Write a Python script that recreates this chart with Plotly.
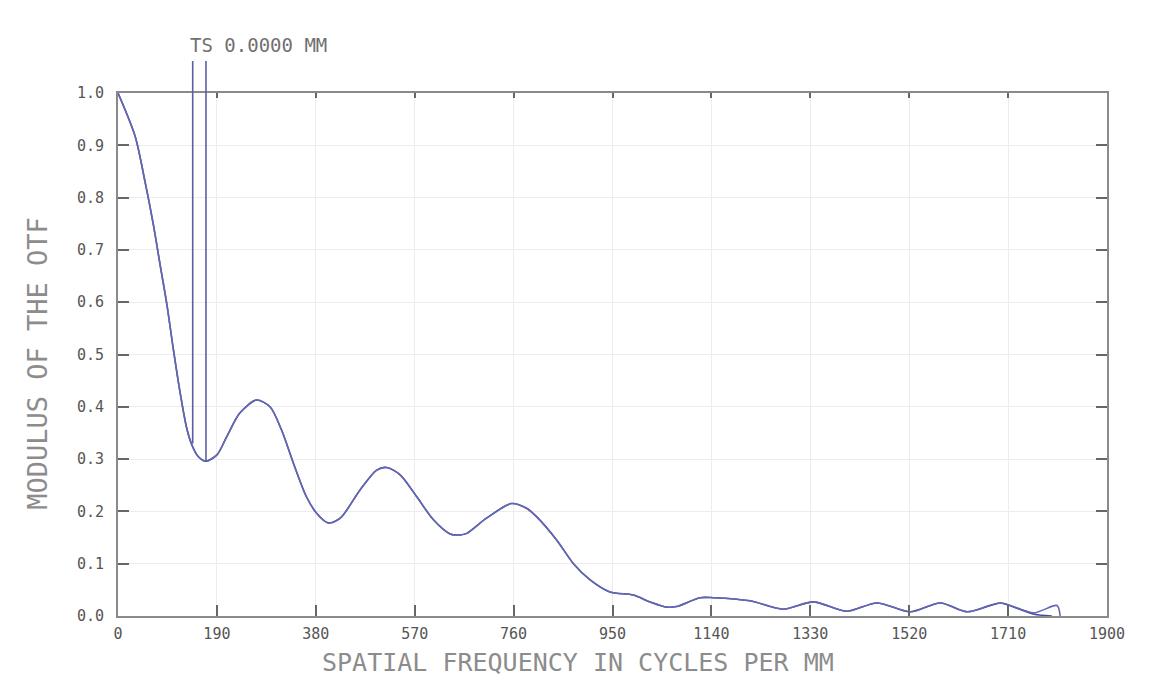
import plotly.graph_objects as go

# Tangential curve
freq_t = [0, 33, 52, 68, 81, 94, 106, 119, 132, 142, 154, 169, 190, 209, 234, 266, 292, 314,
          337, 362, 382, 404, 427, 465, 497, 516, 542, 574, 606, 638, 657, 670, 708, 756, 785,
          804, 843, 875, 907, 945, 990, 1022, 1054, 1073, 1118, 1144, 1214, 1278, 1336, 1400,
          1458, 1522, 1580, 1631, 1695, 1759, 1804, 1810]
mtf_t = [1.0, 0.917, 0.830, 0.748, 0.671, 0.595, 0.512, 0.429, 0.359, 0.327, 0.305, 0.296,
         0.308, 0.343, 0.388, 0.413, 0.400, 0.356, 0.292, 0.228, 0.196, 0.178, 0.187, 0.241,
         0.279, 0.284, 0.270, 0.228, 0.184, 0.157, 0.155, 0.158, 0.187, 0.215, 0.206, 0.190,
         0.145, 0.100, 0.069, 0.046, 0.040, 0.027, 0.017, 0.018, 0.035, 0.035, 0.029, 0.013,
         0.027, 0.009, 0.025, 0.008, 0.025, 0.008, 0.025, 0.006, 0.020, 0.0]

# Sagittal curve (overlaps tangential except at the end)
freq_s = freq_t[:55] + [1707, 1758, 1794]
mtf_s = mtf_t[:55] + [0.022, 0.004, 0.0]

# Legend marker lines (frequency, curve value)
legend_freq = [143.5, 169]
legend_val = [0.330, 0.296]
legend_text = "TS 0.0000 MM"

x_ticks = [0, 190, 380, 570, 760, 950, 1140, 1330, 1520, 1710, 1900]
y_ticks = [0.0, 0.1, 0.2, 0.3, 0.4, 0.5, 0.6, 0.7, 0.8, 0.9, 1.0]

FONT = "DejaVu Sans Mono"

fig = go.Figure()
fig.add_trace(go.Scatter(x=freq_s, y=mtf_s, mode="lines",
                         line=dict(color="#3d4a9e", width=1.6, shape="spline", smoothing=0.8),
                         hoverinfo="skip", showlegend=False))
fig.add_trace(go.Scatter(x=freq_t, y=mtf_t, mode="lines",
                         line=dict(color="#6467b0", width=1.6, shape="spline", smoothing=0.8),
                         hoverinfo="skip", showlegend=False))
# invisible trace to carry the top tick axis
fig.add_trace(go.Scatter(x=[x_ticks[0], x_ticks[-1]], y=[y_ticks[0], y_ticks[0]],
                         mode="lines", line=dict(width=0), opacity=0,
                         xaxis="x2", yaxis="y", hoverinfo="skip", showlegend=False))

for f, v in zip(legend_freq, legend_val):
    fig.add_shape(type="line", xref="x", yref="paper", x0=f, x1=f, y0=v, y1=1.061,
                  line=dict(color="#5a5ea8", width=1.6))

fig.add_annotation(x=134.5, y=1.092, xref="x", yref="paper", text=legend_text,
                   showarrow=False, xanchor="left", yanchor="middle",
                   font=dict(family=FONT, size=19, color="#707070"))

# Axis titles
fig.add_annotation(x=0.465, y=-0.088, xref="paper", yref="paper",
                   text="SPATIAL FREQUENCY IN CYCLES PER MM", showarrow=False,
                   xanchor="center", yanchor="middle",
                   font=dict(family=FONT, size=25, color="#8c8c8c"))
fig.add_annotation(x=-0.081, y=0.484, xref="paper", yref="paper",
                   text="MODULUS OF THE OTF", showarrow=False, textangle=-90,
                   xanchor="center", yanchor="middle",
                   font=dict(family=FONT, size=27, color="#8c8c8c"))

axis_common = dict(showline=True, linecolor="#8a8a8a", linewidth=2,
                   ticks="inside", ticklen=11, tickwidth=1.5, tickcolor="#666666",
                   showgrid=True, gridcolor="#ececec", gridwidth=1, zeroline=False,
                   tickfont=dict(family=FONT, size=15, color="#555555"))

fig.update_xaxes(range=[0, 1900], tickvals=x_ticks, ticktext=[str(t) for t in x_ticks],
                 ticklabelstandoff=3, mirror=True, **axis_common)
fig.update_yaxes(range=[0, 1], tickvals=y_ticks, ticktext=[f"{t:.1f}" for t in y_ticks],
                 ticklabelstandoff=9, mirror="ticks", **axis_common)

fig.update_layout(
    width=1155, height=696, margin=dict(l=118, r=48, t=93, b=80),
    paper_bgcolor="white", plot_bgcolor="white", showlegend=False,
    xaxis2=dict(overlaying="x", side="top", range=[0, 1900], tickvals=x_ticks[1:-1],
                ticks="inside", ticklen=5, tickwidth=1.5, tickcolor="#666666",
                showticklabels=False, showgrid=False, showline=False, zeroline=False),
)

fig.write_html("out.html")
